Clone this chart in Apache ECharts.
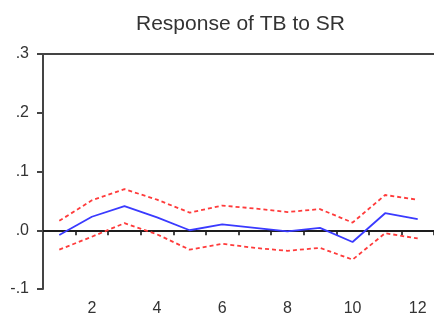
<!DOCTYPE html>
<html>
<head>
<meta charset="utf-8">
<script src="https://cdn.jsdelivr.net/npm/echarts@6/dist/echarts.min.js"></script>
<style>
html,body{margin:0;padding:0;background:#fff;}
#c{width:434px;height:320px;}
</style>
</head>
<body>
<div id="c"></div>
<script>
var categories = ['1','2','3','4','5','6','7','8','9','10','11','12'];
var response = [-0.008, 0.023, 0.041, 0.022, 0.000, 0.010, 0.004, -0.002, 0.004, -0.020, 0.029, 0.019];
var upperBand = [0.016, 0.051, 0.070, 0.052, 0.030, 0.042, 0.037, 0.031, 0.036, 0.013, 0.060, 0.052];
var lowerBand = [-0.033, -0.011, 0.012, -0.007, -0.033, -0.023, -0.030, -0.035, -0.030, -0.050, -0.005, -0.014];
var yTickLabels = {'-0.1':'-.1','0.0':'.0','0.1':'.1','0.2':'.2','0.3':'.3'};

var chart = echarts.init(document.getElementById('c'), null, {renderer:'canvas'});
var font = 'Liberation Sans, Arial, sans-serif';
var axisColor = '#444';
chart.setOption({
  animation: false,
  backgroundColor: '#fff',
  title: {
    text: 'Response of TB to SR',
    left: 131,
    top: 9,
    textStyle: {fontFamily: font, fontSize: 21, fontWeight: 'normal', color: '#333'}
  },
  grid: {left: 43, right: 0, top: 54, bottom: 31, containLabel: false},
  xAxis: [{
    type: 'category',
    data: categories,
    boundaryGap: true,
    position: 'bottom',
    axisLine: {show: true, lineStyle: {color: axisColor, width: 2}},
    axisTick: {show: true, length: 5, inside: false, interval: 0, lineStyle: {color: axisColor, width: 2}},
    axisLabel: {
      interval: function (i) { return i % 2 === 1; },
      margin: 12,
      fontFamily: font, fontSize: 16, color: '#333'
    },
    splitLine: {show: false}
  }, {
    type: 'category',
    data: categories,
    position: 'top',
    axisLine: {show: true, onZero: false, lineStyle: {color: axisColor, width: 2}},
    axisTick: {show: false},
    axisLabel: {show: false},
    splitLine: {show: false}
  }],
  yAxis: {
    type: 'value',
    min: -0.1,
    max: 0.3,
    interval: 0.1,
    axisLine: {show: true, lineStyle: {color: axisColor, width: 2}},
    axisTick: {show: true, length: 6, lineStyle: {color: axisColor, width: 2}},
    axisLabel: {
      margin: 14,
      fontFamily: font, fontSize: 16, color: '#333',
      formatter: function (v) { return yTickLabels[v.toFixed(1)] || v.toFixed(1); }
    },
    splitLine: {show: false}
  },
  series: [{
    name: 'upper',
    type: 'line',
    data: upperBand,
    symbol: 'none',
    lineStyle: {color: '#ff3b3b', width: 1.8, type: [4, 3]},
    z: 3
  }, {
    name: 'lower',
    type: 'line',
    data: lowerBand,
    symbol: 'none',
    lineStyle: {color: '#ff3b3b', width: 1.8, type: [4, 3]},
    z: 3
  }, {
    name: 'response',
    type: 'line',
    data: response,
    symbol: 'none',
    lineStyle: {color: '#3a3aff', width: 1.8},
    z: 4,
    markLine: {
      silent: true,
      symbol: ['none', 'none'],
      label: {show: false},
      lineStyle: {color: '#111', width: 1.5, type: 'solid'},
      data: [{yAxis: 0}],
      z: 2
    }
  }]
});
</script>
</body>
</html>
